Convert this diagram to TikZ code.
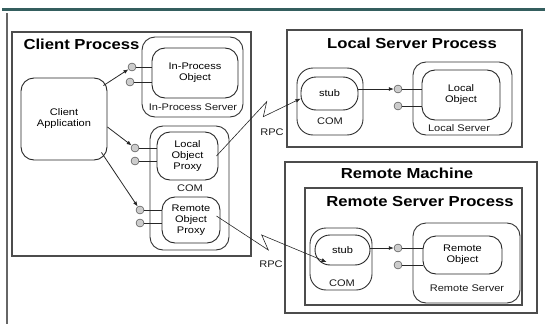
\documentclass[tikz,border=0pt]{standalone}
\usepackage{fontspec}
\setmainfont{Liberation Sans}[FakeStretch=1.15]
\usetikzlibrary{arrows.meta}

\definecolor{ruleteal}{RGB}{52,94,94}

\begin{document}
\begin{tikzpicture}[
    x=1pt, y=-1pt,
    font=\fontsize{9.6}{11}\selectfont,
    boxsize/.style 2 args={minimum width=#1pt, minimum height=#2pt},
    call/.style={-{Latex[length=5pt,width=4pt]}, line width=0.8pt, black!85},
    rpc/.style={-{Latex[length=5pt,width=4pt]}, line width=0.6pt, black!85},
    wire/.style={line width=0.9pt, black!85},
    process/.style={rectangle, draw=black!70, line width=1.5pt, inner sep=0pt},
    holder/.style={rectangle, rounded corners=13pt, draw=black!80, line width=0.9pt, inner sep=0pt},
    objbox/.style={rectangle, rounded corners=13pt, draw=black!85, line width=0.9pt, inner sep=0pt, align=center},
    stubbox/.style={rectangle, rounded corners=15pt, draw=black!85, line width=0.9pt, inner sep=0pt},
    lolly/.style={circle, draw=black!80, fill=black!20, minimum size=8pt, inner sep=0pt},
    title_text/.style={font=\fontsize{14.5}{16}\selectfont\bfseries},
    small_text/.style={font=\fontsize{9.6}{11}\selectfont, black!90}
]
    \useasboundingbox (0,0) rectangle (552,324);

    % Slide frame
    \coordinate (rulestart) at (2,9);
    \coordinate (ruleend) at (545,9);
    \draw[ruleteal, line width=3pt] (rulestart) -- (ruleend);
    \coordinate (bartop) at (7,13);
    \coordinate (barbottom) at (7,324);
    \draw[black!60, line width=2.4pt] (bartop) -- (barbottom);

    % Client Process
    \node[process, boxsize={239}{224}] (clientproc) at (131.5,144) {};
    \node[title_text, anchor=west] (clienttitle) at (20,44) {Client Process};
    \node[objbox, boxsize={86}{82}] (clientapp) at (64,119) {Client\\Application};

    % In-process server
    \node[holder, boxsize={101}{80}] (inprocsrv) at (192.5,77) {};
    \node[objbox, boxsize={86}{50}] (inprocobj) at (195,73) {In-Process\\Object};
    \node[small_text] (inproclabel) at (193,107) {In-Process Server};
    \node[lolly] (ip1) at (132,67) {};
    \node[lolly] (ip2) at (130,82) {};
    \draw[wire] (ip1.east) -- (ip1 -| inprocobj.west);
    \draw[wire] (ip2.east) -- (ip2 -| inprocobj.west);

    % COM with the proxies
    \node[holder, boxsize={79}{124}] (comcli) at (189.5,188) {};
    \node[objbox, boxsize={61}{48}] (localproxy) at (187.5,156) {Local\\Object\\Proxy};
    \node[small_text] (comclilabel) at (190,188) {COM};
    \node[objbox, boxsize={58}{46}] (remoteproxy) at (191,220) {Remote\\Object\\Proxy};
    \node[lolly] (lp1) at (135,148) {};
    \node[lolly] (lp2) at (135,161) {};
    \node[lolly] (rp1) at (140,210) {};
    \node[lolly] (rp2) at (140,223) {};
    \draw[wire] (lp1.east) -- (lp1 -| localproxy.west);
    \draw[wire] (lp2.east) -- (lp2 -| localproxy.west);
    \draw[wire] (rp1.east) -- (rp1 -| remoteproxy.west);
    \draw[wire] (rp2.east) -- (rp2 -| remoteproxy.west);

    % calls from the client
    \draw[call] ([xshift=-4pt,yshift=-8pt]clientapp.north east) -- (ip1);
    \draw[call] ([yshift=-8pt]clientapp.east) -- (lp1);
    \draw[call] ([xshift=-6pt,yshift=8pt]clientapp.south east) -- (rp1);

    % Local Server Process
    \node[process, boxsize={235}{117}] (localproc) at (404.5,88.5) {};
    \node[title_text] (localtitle) at (412,43) {Local Server Process};
    \node[holder, rounded corners=16pt, boxsize={66}{67}] (comloc) at (330,101.5) {};
    \node[stubbox, boxsize={57}{33}] (stubloc) at (329.5,93.5) {stub};
    \node[small_text] (comloclabel) at (330,121) {COM};
    \node[holder, boxsize={99}{73}] (lsrv) at (462.5,98.5) {};
    \node[objbox, boxsize={78}{50}] (lobj) at (461,95) {Local\\Object};
    \node[small_text] (lsrvlabel) at (459,128) {Local Server};
    \node[lolly] (ls1) at (398,89) {};
    \node[lolly] (ls2) at (398,106) {};
    \draw[wire] (ls1.east) -- (ls1 -| lobj.west);
    \draw[wire] (ls2.east) -- (ls2 -| lobj.west);
    \draw[call] (stubloc.east |- ls1) -- (ls1);

    % Remote Machine
    \node[process, boxsize={252}{151}] (remotemach) at (411,237.5) {};
    \node[title_text] (machtitle) at (407,173) {Remote Machine};
    \node[process, boxsize={217}{117}] (remoteproc) at (413.5,246.5) {};
    \node[title_text] (remotetitle) at (420,202) {Remote Server Process};
    \node[holder, rounded corners=16pt, boxsize={62}{62}] (comrem) at (341,259) {};
    \node[stubbox, boxsize={55}{30}] (stubrem) at (342.5,250) {stub};
    \node[small_text] (comremlabel) at (342,283) {COM};
    \node[holder, boxsize={107}{80}] (rsrv) at (466.5,263) {};
    \node[objbox, boxsize={79}{38}] (robj) at (462.5,255) {Remote\\Object};
    \node[small_text] (rsrvlabel) at (467,288) {Remote Server};
    \node[lolly] (rs1) at (398,248) {};
    \node[lolly] (rs2) at (398,265) {};
    \draw[wire] (rs1.east) -- (rs1 -| robj.west);
    \draw[wire] (rs2.east) -- (rs2 -| robj.west);
    \draw[call] (stubrem.east |- rs1) -- (rs1);

    % RPC links
    \coordinate (bolta1) at (266.7,101.7);
    \coordinate (boltb1) at (263.3,116.7);
    \draw[rpc] ([xshift=-2pt]localproxy.east) -- (bolta1) -- (boltb1) -- (stubloc.190);
    \node[small_text] (rpclocal) at (272,132) {RPC};
    \coordinate (bolta2) at (268.3,250);
    \coordinate (boltb2) at (261.7,235);
    \draw[rpc] ([xshift=-4pt,yshift=4pt]remoteproxy.east) -- (bolta2) -- (boltb2) -- ([xshift=-16pt,yshift=-12pt]stubrem.center);
    \node[small_text] (rpcremote) at (271,264) {RPC};

\end{tikzpicture}
\end{document}
